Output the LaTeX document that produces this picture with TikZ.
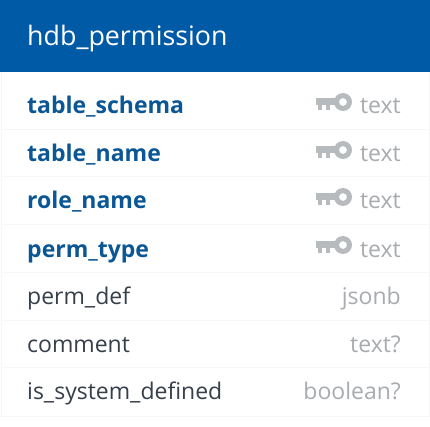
\documentclass[tikz,border=0pt]{standalone}
\usepackage{fontspec}
\setmainfont{Open Sans}
\definecolor{hdbblue}{HTML}{005AA5}
\definecolor{hdbkey}{HTML}{0B5795}
\definecolor{hdbdark}{HTML}{363F4A}
\definecolor{hdbgrey}{HTML}{A8ABB0}
\definecolor{hdbicon}{HTML}{B8BBBE}
\definecolor{hdbline}{HTML}{F6F7F8}

\begin{document}
\begin{tikzpicture}[x=1pt, y=-1pt,
  title/.style={anchor=base west, inner sep=0pt, text=white, font=\fontsize{26.8}{30}\selectfont},
  keycol/.style={anchor=base west, inner sep=0pt, text=hdbkey, font=\fontsize{23}{28}\selectfont\bfseries},
  col/.style={anchor=base west, inner sep=0pt, text=hdbdark, font=\fontsize{23}{28}\selectfont},
  type/.style={anchor=base east, inner sep=0pt, text=hdbgrey, font=\fontsize{23}{28}\selectfont},
  keyicon/.pic={
    \fill[hdbicon, even odd rule] (27,0) circle (9) (27,0) circle (4);
    \fill[hdbicon] (0,-4) rectangle (20,3);
    \fill[hdbicon] (2,3) rectangle (6,8);
    \fill[hdbicon] (10,3) rectangle (14,8);
  }]

  \useasboundingbox (0,0) rectangle (430,427);
  \fill[white] (0,0) rectangle (430,427);

  % rahmen und zeilenlinien
  \draw[hdbline, line width=1] (1,72) -- (1,416) -- (429,416) -- (429,72);
  \foreach \y in {130,177,225,272,320,367}
    \draw[hdbline, line width=1] (1,\y) -- (429,\y);

  % kopf
  \fill[hdbblue] (0,0) rectangle (430,72);
  \node[title] (head) at (27,46) {hdb\_permission};

  % schluesselspalten
  \foreach \name/\label/\y in {schema/table\_schema/114, tname/table\_name/162, rname/role\_name/209, ptype/perm\_type/257} {
    \node[keycol] (\name) at (27,\y) {\label};
    \node[type] (\name-type) at (401,\y) {text};
    \pic at (316,\y-12) {keyicon};
  }

  % uebrige spalten
  \node[col] (def) at (27,304) {perm\_def};
  \node[col] (comment) at (27,352) {comment};
  \node[col] (system) at (27,399) {is\_system\_defined};
  \node[type] (def-type) at (401,304) {jsonb};
  \node[type] (comment-type) at (401,352) {text?};
  \node[type] (system-type) at (401,399) {boolean?};
\end{tikzpicture}
\end{document}
